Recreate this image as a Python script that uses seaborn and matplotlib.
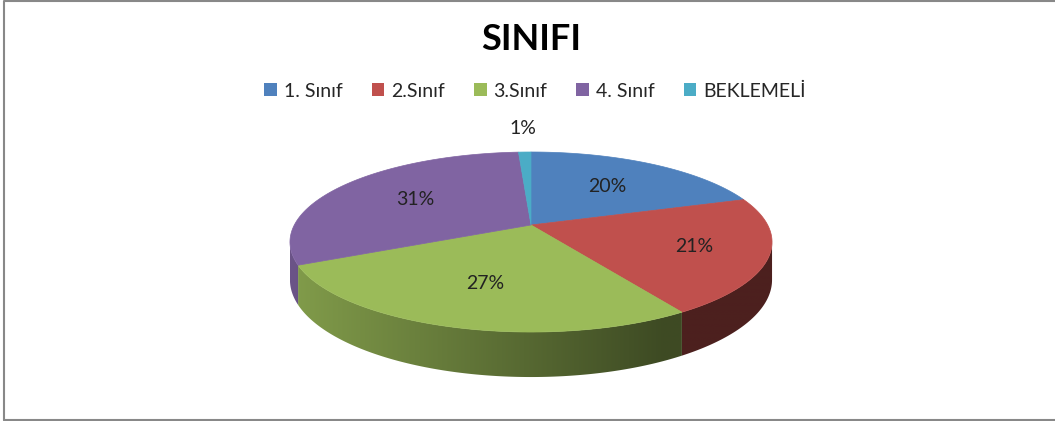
import numpy as np
import matplotlib
matplotlib.use("Agg")
import matplotlib.pyplot as plt
from matplotlib.patches import Patch, Polygon
import seaborn as sns

# data
categories = ["1. Sınıf", "2.Sınıf", "3.Sınıf", "4. Sınıf", "BEKLEMELİ"]
values = [20, 21, 27, 31, 1]
colors = ["#4F81BD", "#C0504D", "#9BBB59", "#8064A2", "#4BACC6"]
label_radius = [0.6, 0.7, 0.62, 0.6, 1.4]

sns.set_theme(style="white")
plt.rcParams["font.family"] = ["Lato", "DejaVu Sans"]

# pie geometry (pixel space of the picture)
CX, CY = 531, 225
R, RT = 236.7, 86.8      # radius on screen, vertical squash
P = 0.189                # perspective strength
D = 36.5                 # wall height


def proj(theta, f=1.0, depth=0.0):
    t = np.radians(theta)
    u = f * np.sin(t)
    v = -f * np.cos(t)
    s = 1.0 / (1.0 - P * v)
    return CX + R * u * s, CY + RT * v * s + D * depth * s


fig = plt.figure(figsize=(10.55, 4.21), dpi=100)
ax = fig.add_axes([0, 0, 1, 1])
ax.set_xlim(0, 1055)
ax.set_ylim(421, 0)
ax.axis("off")

total = sum(values)
bounds = np.concatenate([[0], np.cumsum(values) / total * 360])

# horizontal shading used on the walls (lighter on the left)
gx = np.linspace(CX - R * 1.02, CX + R * 1.02, 400)
gu = (gx - CX) / (R * 1.02)
gk = np.clip(0.553 - 0.283 * gu, 0.40, 0.85)

# walls (only the front part is visible)
vis_lo, vis_hi = 100.9, 259.1
for i, c in enumerate(colors):
    a0, a1 = max(bounds[i], vis_lo), min(bounds[i + 1], vis_hi)
    if a1 <= a0:
        continue
    th = np.linspace(a0, a1, 120)
    xt, yt = proj(th)
    xb, yb = proj(th[::-1], depth=1)
    wall = Polygon(np.c_[np.r_[xt, xb], np.r_[yt, yb]], closed=True,
                   fc="none", ec="none")
    ax.add_patch(wall)
    rgb = np.array(matplotlib.colors.to_rgb(c))
    img = np.clip(gk[None, :, None] * rgb[None, None, :], 0, 1)
    im = ax.imshow(img, extent=(gx[0], gx[-1], 390, 240), aspect="auto",
                   interpolation="bilinear")
    im.set_clip_path(wall)
    ax.set_xlim(0, 1055)
    ax.set_ylim(421, 0)

# top faces
for i, c in enumerate(colors):
    th = np.linspace(bounds[i], bounds[i + 1], 80)
    xs, ys = proj(th)
    ax.fill(np.r_[CX, xs], np.r_[CY, ys], color=c, lw=0.5, ec=c)

# percentage labels
for i, val in enumerate(values):
    mid = (bounds[i] + bounds[i + 1]) / 2
    x, y = proj(mid, f=label_radius[i])
    ax.text(x, y, f"{val}%", ha="center", va="center", fontsize=14, color="#222222")

ax.text(531, 39, "SINIFI", ha="center", va="center", fontsize=26,
        fontweight="bold", color="black")

handles = [Patch(facecolor=c, edgecolor="none") for c in colors]
fig.legend(handles, categories, loc="center", bbox_to_anchor=(535 / 1055, 1 - 91 / 421),
           ncol=5, frameon=False, fontsize=14, handlelength=0.65, handleheight=0.65,
           handletextpad=0.35, columnspacing=1.5)

# chart frame
ax.plot([4, 4, 1056], [420, 1, 1], color="#888888", lw=1.5, clip_on=False)
ax.plot([4, 1056], [419.5, 419.5], color="#888888", lw=1.5, clip_on=False)

fig.savefig("out.png", dpi=100)
